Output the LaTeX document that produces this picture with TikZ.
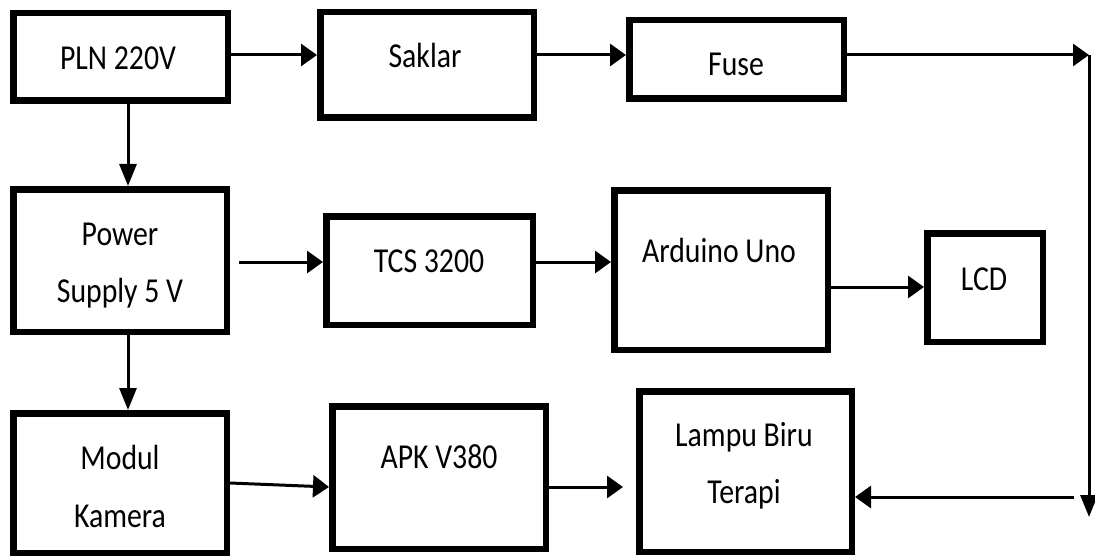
\documentclass[tikz,border=0pt]{standalone}
\usepackage{fontspec}
\setmainfont[FakeStretch=0.85]{Carlito}
\usetikzlibrary{arrows.meta}
\begin{document}
\begin{tikzpicture}[x=1pt,y=-1pt,
  blk/.style={draw, line width=6.5pt, inner sep=0pt},
  txt/.style={anchor=base, inner sep=0pt, font=\fontsize{35}{42}\selectfont},
  con/.style={line width=3pt, -{Triangle[length=16pt,width=22pt]}},
  vcon/.style={line width=3pt, -{Triangle[length=22pt,width=17pt]}}]
\useasboundingbox (0,0) rectangle (1095,559);
% blocks
\node[blk, minimum width=214.5pt, minimum height=87.5pt]  (pln)  at (120.5,57) {};
\node[blk, minimum width=213.5pt, minimum height=105.5pt] (sak)  at (427,65) {};
\node[blk, minimum width=214.5pt, minimum height=78.5pt]  (fuse) at (736.5,59.5) {};
\node[blk, minimum width=213.5pt, minimum height=142.5pt] (psu)  at (120,260.5) {};
\node[blk, minimum width=206.5pt, minimum height=108.5pt] (tcs)  at (429.5,270.5) {};
\node[blk, minimum width=213.5pt, minimum height=159.5pt] (ard)  at (721,270) {};
\node[blk, minimum width=115.5pt, minimum height=108.5pt] (lcd)  at (985,287.5) {};
\node[blk, minimum width=213.5pt, minimum height=139.5pt] (cam)  at (120,483) {};
\node[blk, minimum width=213.5pt, minimum height=142.5pt] (apk)  at (439,477.5) {};
\node[blk, minimum width=212.5pt, minimum height=160.5pt] (lamp) at (745.5,471.5) {};
% texts
\node[txt] (tpln)  at (118,70)  {PLN 220V};
\node[txt] (tsak)  at (425,68)  {Saklar};
\node[txt] (tfuse) at (736,76)  {Fuse};
\node[txt] (tpsu1) at (120,245) {Power};
\node[txt] (tpsu2) at (120,302) {Supply 5 V};
\node[txt] (ttcs)  at (429,272) {TCS 3200};
\node[txt] (tard)  at (719,262) {Arduino Uno};
\node[txt] (tlcd)  at (984,290) {LCD};
\node[txt] (tcam1) at (120,469) {Modul};
\node[txt] (tcam2) at (120,527) {Kamera};
\node[txt] (tapk)  at (439,468) {APK V380};
\node[txt] (tlam1) at (744,446) {Lampu Biru};
\node[txt] (tlam2) at (744,503) {Terapi};
% helper coordinates
\coordinate (c1) at (1089,55);
\coordinate (c2) at (1089,517);
\coordinate (c3) at (1074,497);
\coordinate (p1) at (239,262);
\coordinate (l1) at (623,487);
% connectors
\draw[con] (pln.east |- 0,55) -- (sak.west |- 0,55);
\draw[con] (sak.east |- 0,55) -- (fuse.west |- 0,55);
\draw[con] (fuse.east |- c1) -- (c1);
\draw[vcon] (c1) -- (c2);
\draw[con] (c3) -- (lamp.east |- c3);
\draw[vcon] (pln.south -| 128,0) -- (psu.north -| 128,0);
\draw[con] (p1) -- (tcs.west |- p1);
\draw[con] (tcs.east |- 0,262) -- (ard.west |- 0,262);
\draw[con] (ard.east |- 0,287) -- (lcd.west |- 0,287);
\draw[vcon] (psu.south -| 128,0) -- (cam.north -| 128,0);
\draw[con] (cam.east |- 0,483) -- (apk.west |- 0,487);
\draw[con] (apk.east |- l1) -- (l1);
\end{tikzpicture}
\end{document}
